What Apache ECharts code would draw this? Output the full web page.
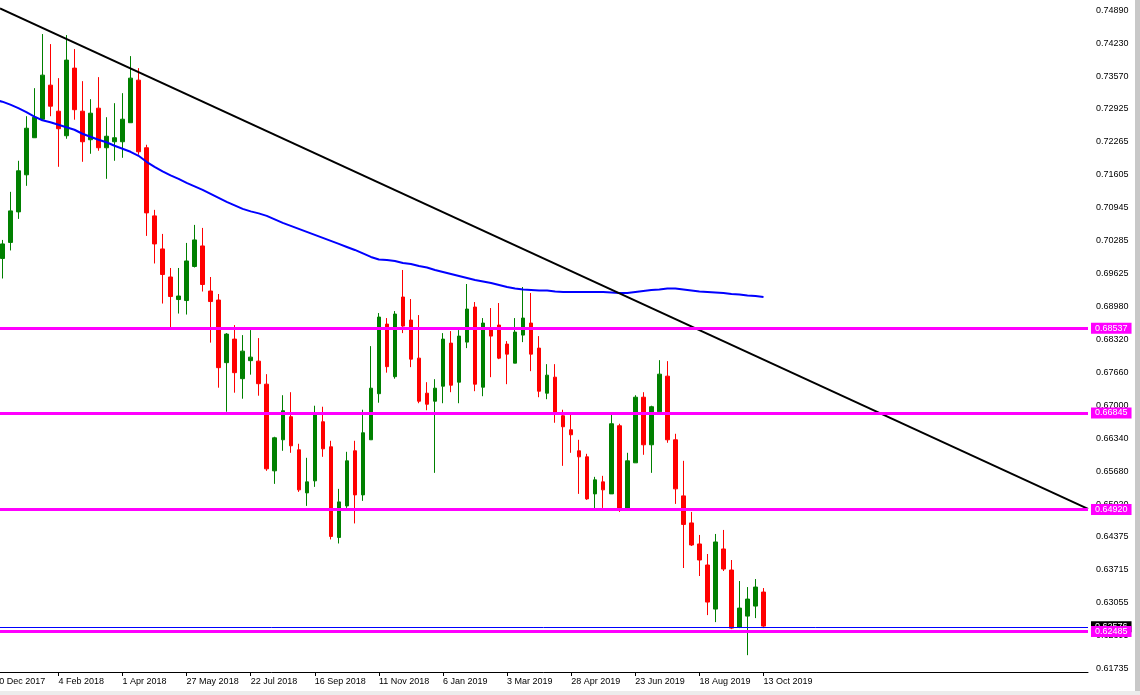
<!DOCTYPE html>
<html><head><meta charset="utf-8">
<script src="https://cdn.jsdelivr.net/npm/echarts@6/dist/echarts.min.js"></script>
<style>html,body{margin:0;padding:0;background:#fff;overflow:hidden}#c{width:1140px;height:695px;}</style>
</head><body><div id="c"></div>
<script>
// Weekly bars, first category = week of 10 Dec 2017 (bar off-screen), visible bars start 17 Dec 2017
const tickLabels = ['10 Dec 2017','4 Feb 2018','1 Apr 2018','27 May 2018','22 Jul 2018','16 Sep 2018','11 Nov 2018','6 Jan 2019','3 Mar 2019','28 Apr 2019','23 Jun 2019','18 Aug 2019','13 Oct 2019'];
const tickEvery = 8;
const totalWeeks = 137;
// [open, close, low, high]
const candles = [
[0.6993,0.7022,0.6953,0.7030],[0.7025,0.7088,0.7009,0.7126],[0.7086,0.7168,0.7072,0.7188],[0.7160,0.7253,0.7138,0.7277],
[0.7234,0.7275,0.7234,0.7333],[0.7271,0.7359,0.7268,0.7441],[0.7339,0.7297,0.7277,0.7421],[0.7287,0.7252,0.7176,0.7353],
[0.7238,0.7389,0.7232,0.7439],[0.7373,0.7290,0.7270,0.7411],[0.7287,0.7226,0.7186,0.7347],[0.7230,0.7283,0.7202,0.7311],
[0.7293,0.7214,0.7208,0.7355],[0.7214,0.7237,0.7152,0.7275],[0.7226,0.7234,0.7188,0.7303],[0.7226,0.7271,0.7194,0.7323],
[0.7264,0.7353,0.7264,0.7397],[0.7349,0.7206,0.7200,0.7373],[0.7214,0.7084,0.7038,0.7220],[0.7078,0.7022,0.6983,0.7090],
[0.7012,0.6961,0.6903,0.7042],[0.6956,0.6917,0.6856,0.6974],[0.6911,0.6918,0.6883,0.6974],[0.6909,0.6988,0.6881,0.7024],
[0.6977,0.7030,0.6975,0.7060],[0.7018,0.6941,0.6927,0.7054],[0.6928,0.6907,0.6825,0.6956],[0.6910,0.6775,0.6735,0.6922],
[0.6785,0.6842,0.6687,0.6844],[0.6832,0.6765,0.6725,0.6860],[0.6753,0.6808,0.6713,0.6840],[0.6789,0.6796,0.6761,0.6850],
[0.6788,0.6743,0.6719,0.6834],[0.6742,0.6573,0.6569,0.6762],[0.6569,0.6635,0.6543,0.6637],[0.6631,0.6689,0.6609,0.6720],
[0.6677,0.6619,0.6605,0.6726],[0.6611,0.6531,0.6527,0.6623],[0.6525,0.6547,0.6499,0.6595],[0.6549,0.6683,0.6537,0.6699],
[0.6667,0.6613,0.6597,0.6697],[0.6617,0.6438,0.6432,0.6629],[0.6436,0.6507,0.6424,0.6533],[0.6499,0.6589,0.6495,0.6607],
[0.6609,0.6521,0.6464,0.6629],[0.6521,0.6645,0.6509,0.6691],[0.6631,0.6734,0.6631,0.6818],[0.6723,0.6876,0.6705,0.6884],
[0.6862,0.6777,0.6765,0.6874],[0.6757,0.6882,0.6753,0.6888],[0.6916,0.6858,0.6844,0.6970],[0.6870,0.6792,0.6776,0.6912],
[0.6794,0.6708,0.6704,0.6880],[0.6724,0.6702,0.6690,0.6746],[0.6708,0.6734,0.6565,0.6752],[0.6738,0.6832,0.6704,0.6844],
[0.6824,0.6740,0.6726,0.6848],[0.6746,0.6838,0.6704,0.6850],[0.6826,0.6892,0.6814,0.6942],[0.6896,0.6742,0.6728,0.6906],
[0.6736,0.6864,0.6718,0.6874],[0.6852,0.6838,0.6756,0.6894],[0.6860,0.6794,0.6792,0.6904],[0.6822,0.6802,0.6742,0.6828],
[0.6784,0.6846,0.6784,0.6874],[0.6840,0.6874,0.6826,0.6936],[0.6864,0.6802,0.6768,0.6924],[0.6814,0.6728,0.6716,0.6838],
[0.6724,0.6760,0.6712,0.6782],[0.6756,0.6685,0.6665,0.6782],[0.6679,0.6657,0.6579,0.6691],[0.6651,0.6641,0.6605,0.6681],
[0.6609,0.6597,0.6523,0.6631],[0.6597,0.6513,0.6511,0.6603],[0.6523,0.6551,0.6491,0.6557],[0.6547,0.6531,0.6495,0.6559],
[0.6523,0.6663,0.6523,0.6681],[0.6659,0.6493,0.6487,0.6663],[0.6493,0.6589,0.6489,0.6605],[0.6585,0.6716,0.6585,0.6720],
[0.6716,0.6621,0.6601,0.6726],[0.6621,0.6697,0.6565,0.6699],[0.6687,0.6762,0.6687,0.6790],[0.6758,0.6631,0.6625,0.6788],
[0.6631,0.6533,0.6503,0.6643],[0.6519,0.6462,0.6375,0.6589],[0.6465,0.6421,0.6419,0.6487],[0.6423,0.6391,0.6359,0.6441],
[0.6381,0.6307,0.6281,0.6403],[0.6293,0.6427,0.6267,0.6443],[0.6413,0.6373,0.6369,0.6451],[0.6371,0.6255,0.6253,0.6391],
[0.6257,0.6295,0.6255,0.6349],[0.6279,0.6313,0.6201,0.6337],[0.6299,0.6337,0.6275,0.6353],[0.6327,0.6259,0.6255,0.6335]
];
// moving average, from the week of 10 Dec 2017
const movingAverage = [
0.7310,
0.7306,0.7300,0.7293,0.7285,0.7276,0.7269,0.7265,0.7260,0.7255,0.7250,0.7242,0.7236,0.7230,0.7225,0.7218,0.7212,
0.7206,0.7198,0.7186,0.7176,0.7167,0.7159,0.7152,0.7144,0.7137,0.7130,0.7122,0.7114,0.7106,0.7099,0.7092,0.7087,
0.7083,0.7078,0.7071,0.7064,0.7058,0.7052,0.7046,0.7040,0.7034,0.7028,0.7022,0.7016,0.7010,0.7003,0.6996,0.6991,
0.6990,0.6988,0.6984,0.6982,0.6978,0.6975,0.6970,0.6966,0.6962,0.6958,0.6954,0.6950,0.6947,0.6944,0.6940,0.6936,
0.6933,0.6931,0.6930,0.6929,0.6929,0.6927,0.6926,0.6926,0.6926,0.6926,0.6926,0.6926,0.6925,0.6924,0.6924,0.6926,
0.6928,0.6930,0.6931,0.6933,0.6933,0.6931,0.6929,0.6927,0.6926,0.6925,0.6924,0.6922,0.6921,0.6919,0.6918,0.6916
];
const priceTicks = [0.74890,0.74230,0.73570,0.72925,0.72265,0.71605,0.70945,0.70285,0.69625,0.68980,0.68320,0.67660,0.67000,0.66340,0.65680,0.65020,0.64375,0.63715,0.63055,0.62395,0.61735];
const levels = [0.68537, 0.66845, 0.64920, 0.62485];
const currentPrice = 0.62576;
// trendline anchors: [week position, price]
const trendline = [[0.71, 0.7492], [136.5, 0.6493]];
const yMin = 0.61674, yMax = 0.75090;

const categories = Array.from({length: totalWeeks}, (_, i) => String(i));
const candleData = [['-','-','-','-']].concat(candles);
const maData = movingAverage;
const isTick = (i) => i % tickEvery === 0 && i / tickEvery < tickLabels.length;
const FONT = 'Liberation Sans';

const chart = echarts.init(document.getElementById('c'));
chart.setOption({
  animation: false,
  backgroundColor: '#ffffff',
  textStyle: {fontFamily: FONT},
  grid: {left: -9.7, top: 0, width: 1097.7, height: 672, outerBoundsMode: 'none', containLabel: false},
  xAxis: [{
    type: 'category', data: categories, boundaryGap: true,
    axisLine: {show: true, lineStyle: {color: '#000', width: 1}},
    axisTick: {show: true, alignWithLabel: true, interval: (i) => isTick(i), length: 4, lineStyle: {color: '#000'}},
    axisLabel: {show: true, interval: (i) => isTick(i), formatter: (v, i) => tickLabels[i / tickEvery] || '',
      align: 'left', margin: 5, color: '#000', fontFamily: FONT, fontSize: 9},
    splitLine: {show: false}
  }, {
    type: 'value', min: -0.5, max: totalWeeks - 0.5, show: false
  }],
  yAxis: {
    type: 'value', position: 'right', min: yMin, max: yMax,
    axisLine: {show: true, lineStyle: {color: '#000', width: 1}},
    axisTick: {show: true, customValues: priceTicks, length: 4, lineStyle: {color: '#000'}},
    axisLabel: {show: true, customValues: priceTicks, formatter: (v) => v.toFixed(5), margin: 8,
      color: '#000', fontFamily: FONT, fontSize: 9},
    splitLine: {show: false}
  },
  series: [{
    type: 'candlestick', name: 'AUDUSD,W1', data: candleData, barWidth: 4, z: 2,
    itemStyle: {color: '#008000', color0: '#ff0000', borderColor: '#008000', borderColor0: '#ff0000', borderWidth: 1},
    markLine: {
      silent: true, symbol: ['none', 'none'], precision: 5, animation: false,
      lineStyle: {color: '#0000ff', width: 1, type: 'solid'},
      label: {position: 'end', distance: 3, formatter: (p) => Number(p.value).toFixed(5), color: '#fff',
        backgroundColor: '#000', padding: [1, 4, 1, 4], fontFamily: FONT, fontSize: 9, lineHeight: 9},
      emphasis: {disabled: true},
      data: [{yAxis: currentPrice}]
    }
  }, {
    type: 'line', name: 'MA', data: maData, showSymbol: false, symbol: 'none', z: 3,
    lineStyle: {color: '#0000ff', width: 2}
  }, {
    type: 'line', name: 'Trend', xAxisIndex: 1, data: trendline, showSymbol: false, symbol: 'none', z: 4,
    lineStyle: {color: '#000', width: 2},
    markLine: {
      silent: true, symbol: ['none', 'none'], precision: 5, animation: false,
      lineStyle: {color: '#ff00ff', width: 3, type: 'solid'},
      label: {position: 'end', distance: 3, formatter: (p) => Number(p.value).toFixed(5), color: '#fff',
        backgroundColor: '#ff00ff', padding: [1, 4, 1, 4], fontFamily: FONT, fontSize: 9, lineHeight: 9},
      emphasis: {disabled: true},
      data: levels.map(v => ({yAxis: v}))
    }
  }],
  graphic: [
    {type: 'rect', left: 1135, top: 0, shape: {width: 5, height: 695}, style: {fill: '#c8c8c8'}, silent: true},
    {type: 'rect', left: 0, top: 691, shape: {width: 1140, height: 4}, style: {fill: '#ececec'}, silent: true}
  ]
});
</script></body></html>
